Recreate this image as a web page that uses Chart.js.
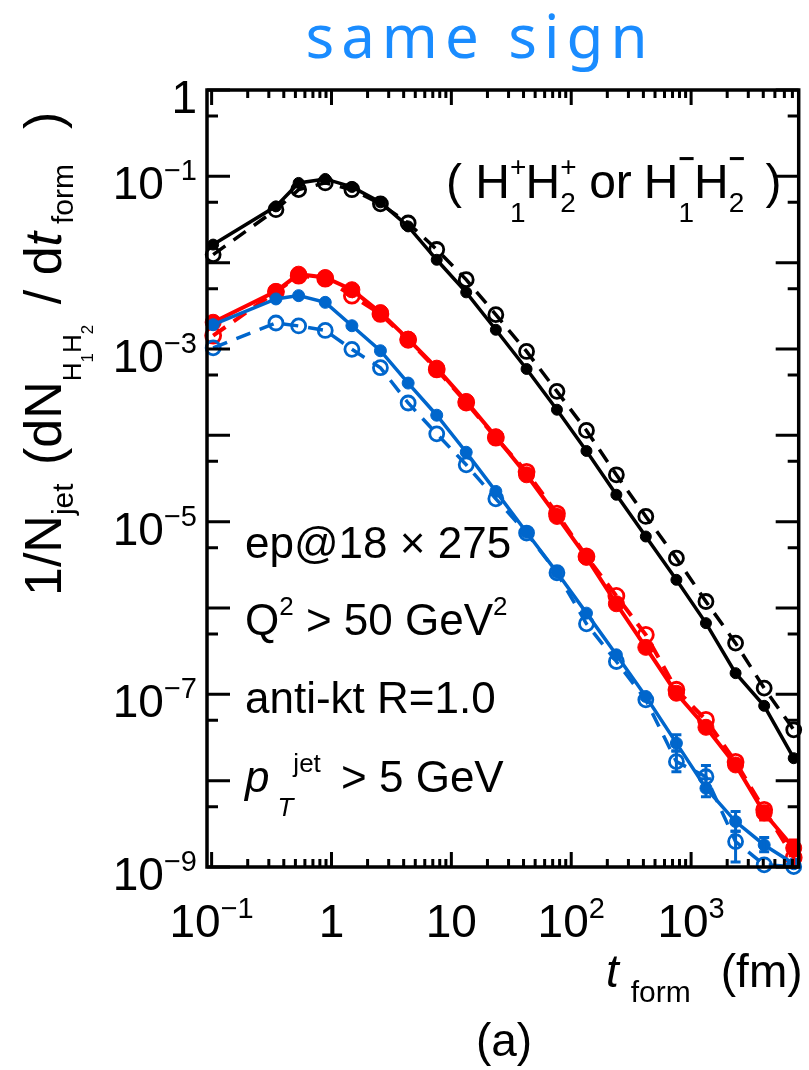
<!DOCTYPE html>
<html>
<head>
<meta charset="utf-8">
<script src="https://cdn.jsdelivr.net/npm/chart.js@4.4.1/dist/chart.umd.min.js"></script>
<style>
  html, body { margin: 0; padding: 0; background: #fff; }
  #wrap { width: 809px; height: 1070px; }
</style>
</head>
<body>
<div id="wrap"><canvas id="chart" width="809" height="1070"></canvas></div>
<script>
// formation time, bin centres (fm)
const tForm = [0.103, 0.344, 0.532, 0.887, 1.48, 2.56, 4.36, 7.55, 13.3, 23.5, 42.4, 76, 134, 238, 419, 754, 1330, 2350, 4070, 7180];

// 1/Njet dN/dt values
const blackFilled = [1.62e-2, 4.49e-2, 8.39e-2, 9.33e-2, 7.54e-2, 5.00e-2, 2.63e-2, 1.08e-2, 4.53e-3, 1.67e-3, 5.87e-4, 1.98e-4, 6.59e-5, 2.05e-5, 6.73e-6, 2.12e-6, 6.68e-7, 1.76e-7, 7.36e-8, 1.82e-8];
const blackOpen   = [1.24e-2, 4.11e-2, 7.01e-2, 8.39e-2, 7.0e-2, 4.8e-2, 2.88e-2, 1.42e-2, 6.36e-3, 2.50e-3, 9.37e-4, 3.23e-4, 1.14e-4, 3.49e-5, 1.15e-5, 3.78e-6, 1.19e-6, 3.92e-7, 1.18e-7, 3.88e-8];
const redFilled   = [2.04e-3, 4.65e-3, 7.36e-3, 6.73e-3, 4.86e-3, 2.64e-3, 1.30e-3, 6.0e-4, 2.47e-4, 9.64e-5, 3.49e-5, 1.15e-5, 3.86e-6, 1.12e-6, 3.50e-7, 1.03e-7, 4.15e-8, 1.52e-8, 4.23e-9, 1.66e-9];
const redOpen     = [1.43e-3, 4.6e-3, 7.07e-3, 6.53e-3, 4.15e-3, 2.55e-3, 1.28e-3, 5.8e-4, 2.4e-4, 9.4e-5, 3.78e-5, 1.24e-5, 3.95e-6, 1.38e-6, 4.89e-7, 1.13e-7, 5.06e-8, 1.65e-8, 4.6e-9, 1.29e-9];
const blueFilled  = [1.91e-3, 3.80e-3, 4.15e-3, 3.47e-3, 1.86e-3, 9.55e-4, 4.03e-4, 1.71e-4, 6.37e-5, 2.24e-5, 7.53e-6, 2.59e-6, 8.72e-7, 2.87e-7, 9.44e-8, 2.72e-8, 8.18e-9, 3.36e-9, 1.80e-9, 1.09e-9];
const blueOpen    = [1.03e-3, 2.00e-3, 1.85e-3, 1.64e-3, 9.91e-4, 6.07e-4, 2.37e-4, 1.04e-4, 4.56e-5, 1.84e-5, 7.38e-6, 2.56e-6, 6.56e-7, 2.40e-7, 8.63e-8, 1.66e-8, 1.11e-8, 1.97e-9, 1.06e-9, 1.01e-9];

// error bars [low, high], only where visible
const blueFilledErr = [null, null, null, null, null, null, null, null, null, null, null, null, null, null, null, [2.2e-8, 3.4e-8], [6.5e-9, 1.05e-8], [2.6e-9, 4.4e-9], [1.5e-9, 2.2e-9], null];
const blueOpenErr   = [null, null, null, null, null, null, null, null, null, null, null, null, null, null, null, [1.27e-8, 2.2e-8], [8.2e-9, 1.5e-8], [1.14e-9, 2.6e-9], null, null];
const redFilledErr  = [null, null, null, null, null, null, null, null, null, null, null, null, null, null, null, null, null, null, [3.5e-9, 5.1e-9], [1.35e-9, 2.06e-9]];
const redOpenErr    = [null, null, null, null, null, null, null, null, null, null, null, null, null, null, null, null, null, null, null, [1.0e-9, 1.6e-9]];

// tick labels: [value, base, exponent]
const xTickLabels = [[0.1, '10', '\u22121'], [1, '1', ''], [10, '10', ''], [100, '10', '2'], [1000, '10', '3']];
const yTickLabels = [[1, '1', ''], [1e-1, '10', '\u22121'], [1e-3, '10', '\u22123'], [1e-5, '10', '\u22125'], [1e-7, '10', '\u22127'], [1e-9, '10', '\u22129']];

const FONT = '"Liberation Sans", Arial, Helvetica, sans-serif';
const RED = '#ff0000';
const BLUE = '#0066cc';

function pts(arr) {
    return tForm.map((t, i) => ({ x: t, y: arr[i] }));
}

function makeSet(label, arr, color, filled, radius, width, err) {
    return {
        label: label,
        data: pts(arr),
        err: err,
        borderColor: color,
        backgroundColor: color,
        borderWidth: width,
        borderDash: filled ? [] : [15, 10],
        pointRadius: radius,
        pointBorderWidth: filled ? 1 : 2.8,
        pointBackgroundColor: filled ? color : 'rgba(0,0,0,0)',
        pointBorderColor: color,
        tension: 0,
        clip: false
    };
}

// draw a row of text pieces (sub/superscripts via dy)
function runs(ctx, x, y, parts, measureOnly) {
    let cx = x;
    for (const p of parts) {
        ctx.font = (p.it ? 'italic ' : '') + (p.b ? 'bold ' : '') + p.f + 'px ' + FONT;
        cx += p.dx || 0;
        const w = ctx.measureText(p.t).width;
        if (!measureOnly) ctx.fillText(p.t, cx, y + (p.dy || 0));
        if (!p.stack) cx += w;
    }
    return cx - x;
}

const framePlugin = {
    id: 'framePlugin',
    afterDatasetsDraw(chart) {
        const { ctx, chartArea: a, scales: { x, y } } = chart;
        ctx.save();

        // error bars
        chart.data.datasets.forEach(ds => {
            if (!ds.err) return;
            ctx.strokeStyle = ds.borderColor;
            ctx.lineWidth = 3;
            ds.err.forEach((e, i) => {
                if (!e) return;
                const px = x.getPixelForValue(ds.data[i].x);
                const lo = y.getPixelForValue(e[0]);
                const hi = y.getPixelForValue(e[1]);
                ctx.beginPath();
                ctx.moveTo(px, lo); ctx.lineTo(px, hi);
                ctx.moveTo(px - 5, lo); ctx.lineTo(px + 5, lo);
                ctx.moveTo(px - 5, hi); ctx.lineTo(px + 5, hi);
                ctx.stroke();
            });
        });

        // frame
        ctx.strokeStyle = '#000';
        ctx.lineWidth = 3.5;
        ctx.strokeRect(a.left, a.top, a.right - a.left, a.bottom - a.top);

        // x ticks (bottom and top, inward)
        ctx.lineWidth = 3;
        ctx.beginPath();
        for (let k = -2; k <= 3; k++) {
            for (let m = 1; m <= 9; m++) {
                const v = m * Math.pow(10, k);
                if (v < x.min || v > x.max) continue;
                const px = x.getPixelForValue(v);
                const len = m === 1 ? 15 : 8;
                ctx.moveTo(px, a.bottom); ctx.lineTo(px, a.bottom - len);
                ctx.moveTo(px, a.top); ctx.lineTo(px, a.top + len);
            }
        }
        // y ticks (left and right, inward): decades and 5x
        for (let k = -10; k <= 0; k++) {
            [1, 5].forEach(m => {
                const v = m * Math.pow(10, k);
                if (v < y.min * 0.999 || v > y.max * 1.001) return;
                const py = y.getPixelForValue(v);
                const len = m === 1 ? 23 : 11;
                ctx.moveTo(a.left, py); ctx.lineTo(a.left + len, py);
                ctx.moveTo(a.right, py); ctx.lineTo(a.right - len, py);
            });
        }
        ctx.stroke();

        ctx.fillStyle = '#000';
        ctx.textBaseline = 'alphabetic';
        ctx.textAlign = 'left';

        // y tick labels
        yTickLabels.forEach(([v, base, ex]) => {
            const py = y.getPixelForValue(v);
            const parts = [{ t: base, f: 46 }, { t: ex, f: 29, dy: -19 }];
            const w = runs(ctx, 0, 0, parts, true);
            runs(ctx, 197 - w, py + 23, parts);
        });

        // x tick labels
        xTickLabels.forEach(([v, base, ex]) => {
            const px = x.getPixelForValue(v);
            const parts = [{ t: base, f: 46 }, { t: ex, f: 29, dy: -19 }];
            const w = runs(ctx, 0, 0, parts, true);
            runs(ctx, px - w / 2, 937, parts);
        });

        // x axis title
        runs(ctx, 606, 987, [{ t: 't', f: 46, it: true }, { t: 'form', f: 30, dx: 12, dy: 15 }, { t: '(fm)', f: 46, dx: 30 }]);

        // panel tag
        ctx.textAlign = 'center';
        ctx.font = '46px ' + FONT;
        ctx.fillText('(a)', 504, 1056);
        ctx.textAlign = 'left';

        // y axis title, rotated
        ctx.save();
        ctx.translate(61, 596);
        ctx.rotate(-Math.PI / 2);
        runs(ctx, 0, 0, [
            { t: '1/N', f: 52 },
            { t: 'jet', f: 30, dy: 12 },
            { t: ' (dN', f: 52, dx: 4 },
            { t: 'H', f: 26, dy: 20 },
            { t: '1', f: 17, dy: 32 },
            { t: 'H', f: 26, dy: 20 },
            { t: '2', f: 17, dy: 32 },
            { t: ' / d', f: 52, dx: 6 },
            { t: 't', f: 52, it: true },
            { t: 'form', f: 30, dx: 8, dy: 12 },
            { t: '  )', f: 52, dx: 6 }
        ]);
        ctx.restore();

        // cut labels
        runs(ctx, 245, 558, [{ t: 'ep@18 \u00d7 275', f: 44 }]);
        runs(ctx, 245, 635, [{ t: 'Q', f: 44 }, { t: '2', f: 26, dy: -20 }, { t: ' > 50 GeV', f: 44 }, { t: '2', f: 26, dy: -20 }]);
        runs(ctx, 245, 713, [{ t: 'anti-kt R=1.0', f: 44 }]);
        runs(ctx, 245, 792, [
            { t: 'p', f: 44, it: true },
            { t: 'T', f: 26, it: true, dx: 8, dy: 24 },
            { t: 'jet', f: 26, dy: -20 },
            { t: ' > 5 GeV', f: 44, dx: 8 }
        ]);

        // charge combination
        runs(ctx, 446, 198, [
            { t: '( H', f: 48 },
            { t: '+', f: 28, dy: -22, stack: true },
            { t: '1', f: 28, dy: 24 },
            { t: 'H', f: 48 },
            { t: '+', f: 28, dy: -22, stack: true },
            { t: '2', f: 28, dy: 14 },
            { t: ' or', f: 48 },
            { t: 'H', f: 48, dx: 12 },
            { t: '\u2212', f: 28, b: true, dy: -30, stack: true },
            { t: '1', f: 28, dy: 24 },
            { t: 'H', f: 48 },
            { t: '\u2212', f: 28, b: true, dy: -30, stack: true },
            { t: '2', f: 28, dy: 14 },
            { t: ' )', f: 48, dx: 8 }
        ]);

        // handwritten note
        ctx.fillStyle = '#1a8cff';
        ctx.textAlign = 'center';
        ctx.font = '60px "Noto Sans", sans-serif';
        ctx.letterSpacing = '7px';
        ctx.fillText('same sign', 480, 58);
        ctx.restore();
    }
};

new Chart(document.getElementById('chart'), {
    type: 'line',
    data: {
        datasets: [
            makeSet('black filled', blackFilled, '#000000', true, 5.5, 3.5, null),
            makeSet('black open', blackOpen, '#000000', false, 7, 3.5, null),
            makeSet('blue filled', blueFilled, BLUE, true, 6, 3.5, blueFilledErr),
            makeSet('blue open', blueOpen, BLUE, false, 7, 3.5, blueOpenErr),
            makeSet('red filled', redFilled, RED, true, 8, 4, redFilledErr),
            makeSet('red open', redOpen, RED, false, 7.5, 4, redOpenErr)
        ]
    },
    options: {
        responsive: false,
        animation: false,
        devicePixelRatio: 1,
        layout: { padding: { left: 207, top: 90, right: 2, bottom: 203 } },
        plugins: {
            legend: { display: false },
            tooltip: { enabled: false },
            title: { display: false }
        },
        scales: {
            x: {
                type: 'logarithmic',
                min: 0.0915,
                max: 7900,
                bounds: 'data',
                display: false
            },
            y: {
                type: 'logarithmic',
                min: 1e-9,
                max: 1,
                bounds: 'data',
                display: false
            }
        }
    },
    plugins: [framePlugin]
});
</script>
</body>
</html>
